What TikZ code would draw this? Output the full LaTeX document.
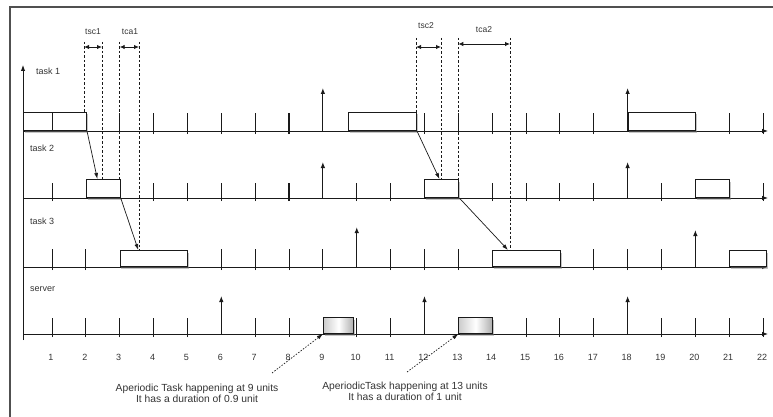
\documentclass[tikz,border=0pt]{standalone}
\usepackage{fontspec}
\setmainfont{Liberation Sans}
\usetikzlibrary{arrows.meta,shadows,calc}
\definecolor{txt}{HTML}{333333}
\definecolor{framec}{HTML}{505050}
\definecolor{linec}{HTML}{1A1A1A}
\begin{document}
\begin{tikzpicture}[x=1pt,y=-1pt,
  declare function={tx(\t)=18.14+33.86*\t;},
  tickline/.style={draw=linec,line width=0.9pt},
  thicktick/.style={draw=linec,line width=1.4pt},
  rel/.style={draw=linec,line width=1pt,-{Latex[length=6pt,width=4.5pt]}},
  axisline/.style={draw=linec,line width=0.9pt,-{Latex[length=6pt,width=4.5pt]}},
  jobbox/.style={draw=linec,line width=1pt,fill=white,inner sep=0pt,anchor=south west,
     drop shadow={shadow xshift=1.2pt,shadow yshift=-2pt,opacity=0.45}},
  srvbox/.style={jobbox,left color=gray!40,right color=gray!65,middle color=white},
  cause/.style={draw=linec,line width=0.7pt,-{Latex[length=6pt,width=4pt]}},
  guide/.style={draw=linec,line width=0.8pt,dash pattern=on 2.5pt off 2pt},
  dbl/.style={draw=linec,line width=0.9pt,{Latex[length=5pt,width=4.5pt]}-{Latex[length=5pt,width=4.5pt]}},
  note/.style={draw=linec,line width=0.7pt,dash pattern=on 1.5pt off 1.5pt,-{Latex[length=6pt,width=4pt]}},
  lbl/.style={text=txt,font=\fontsize{9}{10}\selectfont,inner sep=0pt},
  small/.style={text=txt,font=\fontsize{8.5}{9.5}\selectfont,inner sep=0pt},
  num/.style={text=txt,font=\fontsize{9}{10}\selectfont,inner sep=0pt},
  ann/.style={text=txt,font=\fontsize{10.3}{11.3}\selectfont,inner sep=0pt,align=center}
]
\useasboundingbox (0,0) rectangle (773,417);
% frame
\draw[framec,line width=1.5pt] (10,418) -- (10,7) -- (774,7);

% vertical axis
\coordinate (vbot) at (23,340);
\coordinate (vtop) at (23,65);
\draw[axisline] (vbot) -- (vtop);

% horizontal axes
\foreach \b/\n in {131/a,198/b,267/c,334/s}{
  \coordinate (\n0) at (23,\b);
  \coordinate (\n1) at (768,\b);
  \draw[axisline] (\n0) -- (\n1);
}

% ---------- task 1 (base 131) ----------
\foreach \t in {3,4,5,6,7,12,14,15,16,17,21,22}
  \draw[tickline] ({tx(\t)},134) -- ({tx(\t)},113);
\foreach \t in {8,13}
  \draw[thicktick] ({tx(\t)},134) -- ({tx(\t)},113);
\foreach \t in {9,18}
  \draw[rel] ({tx(\t)},131) -- ({tx(\t)},88);
\node[jobbox,minimum width=63pt,minimum height=18pt] (a1) at (23,131) {};
\draw[linec,line width=0.9pt] (52,131) -- (52,113);
\node[jobbox,minimum width=67.7pt,minimum height=18pt] (a2) at ({tx(9.75)},131) {};
\node[jobbox,minimum width=67.7pt,minimum height=18pt] (a3) at ({tx(18)},131) {};

% ---------- task 2 (base 198) ----------
\foreach \t in {1,4,5,6,7,14,15,16,17,19,22}
  \draw[tickline] ({tx(\t)},201) -- ({tx(\t)},183);
\foreach \t in {8,10,11}
  \draw[thicktick] ({tx(\t)},201) -- ({tx(\t)},183);
\foreach \t in {9,18}
  \draw[rel] ({tx(\t)},198) -- ({tx(\t)},162);
\node[jobbox,minimum width=33.86pt,minimum height=18pt] (b1) at ({tx(2)},198) {};
\node[jobbox,minimum width=33.86pt,minimum height=18pt] (b2) at ({tx(12)},198) {};
\node[jobbox,minimum width=33.86pt,minimum height=18pt] (b3) at ({tx(20)},198) {};

% ---------- task 3 (base 267) ----------
\foreach \t in {1,2,6,7,8,9,11,12,13,17,18,19}
  \draw[tickline] ({tx(\t)},270) -- ({tx(\t)},249);
\draw[rel,line width=1.4pt] ({tx(10)},267) -- ({tx(10)},227);
\draw[rel] ({tx(20)},267) -- ({tx(20)},230);
\node[jobbox,minimum width=67.7pt,minimum height=16pt] (c1) at ({tx(3)},267) {};
\node[jobbox,minimum width=67.7pt,minimum height=16pt] (c2) at ({tx(14)},267) {};
\node[jobbox,minimum width=36.8pt,minimum height=16pt] (c3) at ({tx(21)},267) {};

% ---------- server (base 334) ----------
\foreach \t in {1,2,3,4,5,7,8,10,11,15,16,17,19,20,21,22}
  \draw[tickline] ({tx(\t)},337) -- ({tx(\t)},318);
\foreach \t in {6,12,18}
  \draw[rel] ({tx(\t)},334) -- ({tx(\t)},296);
\node[srvbox,minimum width=30.5pt,minimum height=16pt] (s1) at ({tx(9)},334) {};
\node[srvbox,minimum width=33.86pt,minimum height=16pt] (s2) at ({tx(13)},334) {};

% row labels
\node[lbl,anchor=west] (l1) at (36,71) {task 1};
\node[lbl,anchor=west] (l2) at (30,148) {task 2};
\node[lbl,anchor=west] (l3) at (30,221) {task 3};
\node[lbl,anchor=west] (l4) at (30,289) {server};

% time numbers
\foreach \t in {1,...,22}
  \node[num] (n\t) at ({tx(\t)-1},357) {\t};

% dashed guides
\draw[guide] (84,42) -- (84,113);
\draw[guide] (102,42) -- (102,180);
\draw[guide] (119.7,42) -- (119.7,180);
\draw[guide] (139,42) -- (139,251);
\draw[guide] (416,38) -- (416,113);
\draw[guide] (441,38) -- (441,180);
\draw[guide] (458.3,38) -- (458.3,180);
\draw[guide] (510,38) -- (510,251);

% interval labels and double arrows
\node[small] (tsc1) at (93,32) {tsc1};
\node[small] (tca1) at (130,32) {tca1};
\node[small] (tsc2) at (426,26) {tsc2};
\node[small] (tca2) at (484,30) {tca2};
\coordinate (p1) at (84,47);  \coordinate (p2) at (102,47);
\coordinate (p3) at (119.7,47); \coordinate (p4) at (139,47);
\coordinate (p5) at (416,47); \coordinate (p6) at (441,47);
\coordinate (p7) at (458.3,44); \coordinate (p8) at (510,44);
\draw[dbl] (p1) -- (p2);
\draw[dbl] (p3) -- (p4);
\draw[dbl] (p5) -- (p6);
\draw[dbl] (p7) -- (p8);

% causal arrows
\draw[cause] (a1.south east) -- ($(b1.north west)!0.33!(b1.north east)$);
\draw[cause] (b1.south east) -- ($(c1.north west)!0.27!(c1.north east)$);
\draw[cause] (a2.south east) -- ($(b2.north west)!0.43!(b2.north east)$);
\draw[cause] (b2.south east) -- ($(c2.north west)!0.23!(c2.north east)$);

% annotations
\node[ann] (ann1) at (197,393) {Aperiodic Task happening at 9 units\\It has a duration of 0.9 unit};
\node[ann] (ann2) at (405,391) {AperiodicTask happening at 13 units\\It has a duration of 1 unit};
\coordinate (q1) at (272,373);
\coordinate (q2) at (407,372);
\draw[note] (q1) -- (s1.south west);
\draw[note] (q2) -- (s2.south west);
\end{tikzpicture}
\end{document}
